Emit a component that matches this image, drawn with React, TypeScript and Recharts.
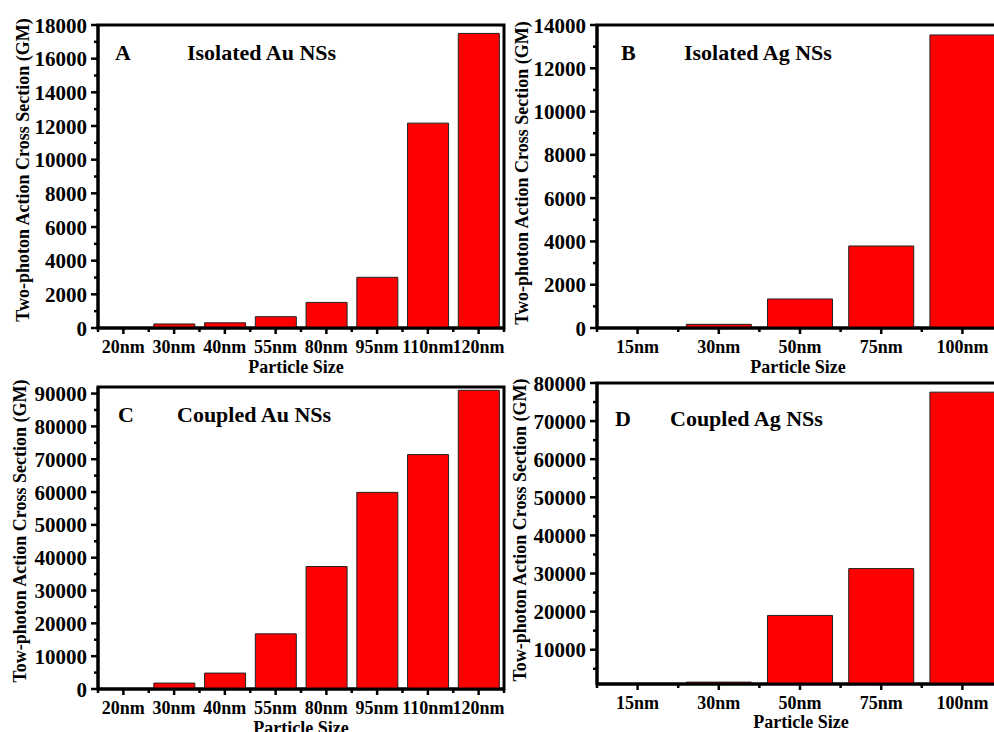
import React from 'react';
import { BarChart, Bar, XAxis, YAxis, ReferenceArea } from 'recharts';

const FONT = "'Liberation Serif', 'Times New Roman', serif";

// particle sizes
const AU_SIZES = ['20nm', '30nm', '40nm', '55nm', '80nm', '95nm', '110nm', '120nm'];
const AG_SIZES = ['15nm', '30nm', '50nm', '75nm', '100nm'];

// two-photon action cross sections (GM)
const ISOLATED_AU = [20, 240, 310, 670, 1520, 3010, 12170, 17500];
const ISOLATED_AG = [20, 170, 1340, 3790, 13540];
const COUPLED_AU = [50, 1800, 4850, 16800, 37300, 59900, 71400, 91000];
const COUPLED_AG = [0, 1500, 19000, 31300, 77600];

// y ticks (major + minor)
const TICKS_A = [0, 1000, 2000, 3000, 4000, 5000, 6000, 7000, 8000, 9000, 10000, 11000, 12000, 13000, 14000, 15000, 16000, 17000, 18000];
const TICKS_B = [0, 1000, 2000, 3000, 4000, 5000, 6000, 7000, 8000, 9000, 10000, 11000, 12000, 13000, 14000];
const TICKS_C = [0, 5000, 10000, 15000, 20000, 25000, 30000, 35000, 40000, 45000, 50000, 55000, 60000, 65000, 70000, 75000, 80000, 85000, 90000];
const TICKS_D = [5000, 10000, 15000, 20000, 25000, 30000, 35000, 40000, 45000, 50000, 55000, 60000, 65000, 70000, 75000, 80000];

const Y_W = 92;
const MT = 10;
const MR = 4;
const X_H = 32;

const YTick = (props: any) => {
  const { x, y, payload, step } = props;
  const major = payload.value % step === 0;
  return (
    <g>
      <line x1={x} x2={x - (major ? 7 : 4)} y1={y} y2={y} stroke="#000" strokeWidth={2.5} />
      {major && (
        <text x={x - 11} y={y} dy="0.36em" textAnchor="end" fontSize={21} fontWeight="bold" fontFamily={FONT} fill="#000">
          {payload.value}
        </text>
      )}
    </g>
  );
};

const XTick = (props: any) => {
  const { x, y, payload, index, band, count } = props;
  return (
    <g>
      <line x1={x} x2={x} y1={y} y2={y + 6} stroke="#000" strokeWidth={2.5} />
      <line x1={x - band / 2} x2={x - band / 2} y1={y} y2={y + 4} stroke="#000" strokeWidth={2.5} />
      {index === count - 1 && <line x1={x + band / 2} x2={x + band / 2} y1={y} y2={y + 4} stroke="#000" strokeWidth={2.5} />}
      <text x={x} y={y + 25} textAnchor="middle" fontSize={18} fontWeight="bold" fontFamily={FONT} fill="#000">
        {payload.value}
      </text>
    </g>
  );
};

type PanelProps = {
  sizes: string[];
  values: number[];
  domain: [number, number];
  ticks: number[];
  step: number;
  plotLeft: number;
  plotTop: number;
  plotWidth: number;
  plotHeight: number;
};

const Panel: React.FC<PanelProps> = ({ sizes, values, domain, ticks, step, plotLeft, plotTop, plotWidth, plotHeight }) => {
  const data = sizes.map((size, i) => ({ size, value: values[i] }));
  const band = plotWidth / sizes.length;
  const axisLine = { stroke: '#000', strokeWidth: 3 };
  return (
    <div style={{ position: 'absolute', left: plotLeft - Y_W, top: plotTop - MT }}>
      <BarChart
        width={Y_W + plotWidth + MR}
        height={MT + plotHeight + X_H}
        data={data}
        margin={{ top: MT, right: MR, bottom: 0, left: 0 }}
        barCategoryGap="10%"
      >
        <XAxis
          dataKey="size"
          height={X_H}
          tickSize={0}
          tickMargin={0}
          tickLine={false}
          interval={0}
          axisLine={axisLine}
          tick={(p: any) => <XTick {...p} band={band} count={sizes.length} />}
        />
        <YAxis
          width={Y_W}
          domain={domain}
          ticks={ticks}
          interval={0}
          allowDataOverflow
          tickSize={0}
          tickMargin={0}
          tickLine={false}
          axisLine={axisLine}
          tick={(p: any) => <YTick {...p} step={step} />}
        />
        <Bar dataKey="value" fill="#ff0000" stroke="#222" strokeWidth={1} isAnimationActive={false} />
        <ReferenceArea y1={domain[0]} y2={domain[1]} fill="none" fillOpacity={0} stroke="#000" strokeWidth={3} strokeOpacity={1} />
      </BarChart>
    </div>
  );
};

const titleStyle = { fontFamily: FONT, fontWeight: 'bold' as const, fill: '#000' };

export default function App() {
  return (
    <div style={{ position: 'absolute', left: 0, top: 0, width: 994, height: 732, overflow: 'hidden', background: '#fff' }}>
      <Panel sizes={AU_SIZES} values={ISOLATED_AU} domain={[0, 18000]} ticks={TICKS_A} step={2000} plotLeft={98} plotTop={25} plotWidth={406} plotHeight={303} />
      <Panel sizes={AG_SIZES} values={ISOLATED_AG} domain={[0, 14000]} ticks={TICKS_B} step={2000} plotLeft={597} plotTop={25} plotWidth={406} plotHeight={303} />
      <Panel sizes={AU_SIZES} values={COUPLED_AU} domain={[0, 92000]} ticks={TICKS_C} step={10000} plotLeft={98} plotTop={387} plotWidth={406} plotHeight={302} />
      <Panel sizes={AG_SIZES} values={COUPLED_AG} domain={[1000, 80000]} ticks={TICKS_D} step={10000} plotLeft={597} plotTop={383} plotWidth={406} plotHeight={301} />
      <svg width={994} height={732} style={{ position: 'absolute', left: 0, top: 0, pointerEvents: 'none' }}>
        <g {...titleStyle} fontSize={22} dominantBaseline="central">
          <text x={115} y={52}>A</text>
          <text x={187} y={52}>Isolated Au NSs</text>
          <text x={621} y={52}>B</text>
          <text x={684} y={52}>Isolated Ag NSs</text>
          <text x={118} y={414}>C</text>
          <text x={177} y={414}>Coupled Au NSs</text>
          <text x={615} y={418}>D</text>
          <text x={670} y={418}>Coupled Ag NSs</text>
        </g>
        <g {...titleStyle} fontSize={18} textAnchor="middle" dominantBaseline="central">
          <text x={296} y={367}>Particle Size</text>
          <text x={798} y={367}>Particle Size</text>
          <text x={301} y={728}>Particle Size</text>
          <text x={801} y={722}>Particle Size</text>
          <text transform="translate(23,170) rotate(-90)">Two-photon  Action Cross Section (GM)</text>
          <text transform="translate(522,173) rotate(-90)">Two-photon  Action Cross Section (GM)</text>
          <text transform="translate(20,531) rotate(-90)">Tow-photon  Action Cross Section (GM)</text>
          <text transform="translate(520,530) rotate(-90)">Tow-photon  Action Cross Section (GM)</text>
        </g>
      </svg>
    </div>
  );
}
